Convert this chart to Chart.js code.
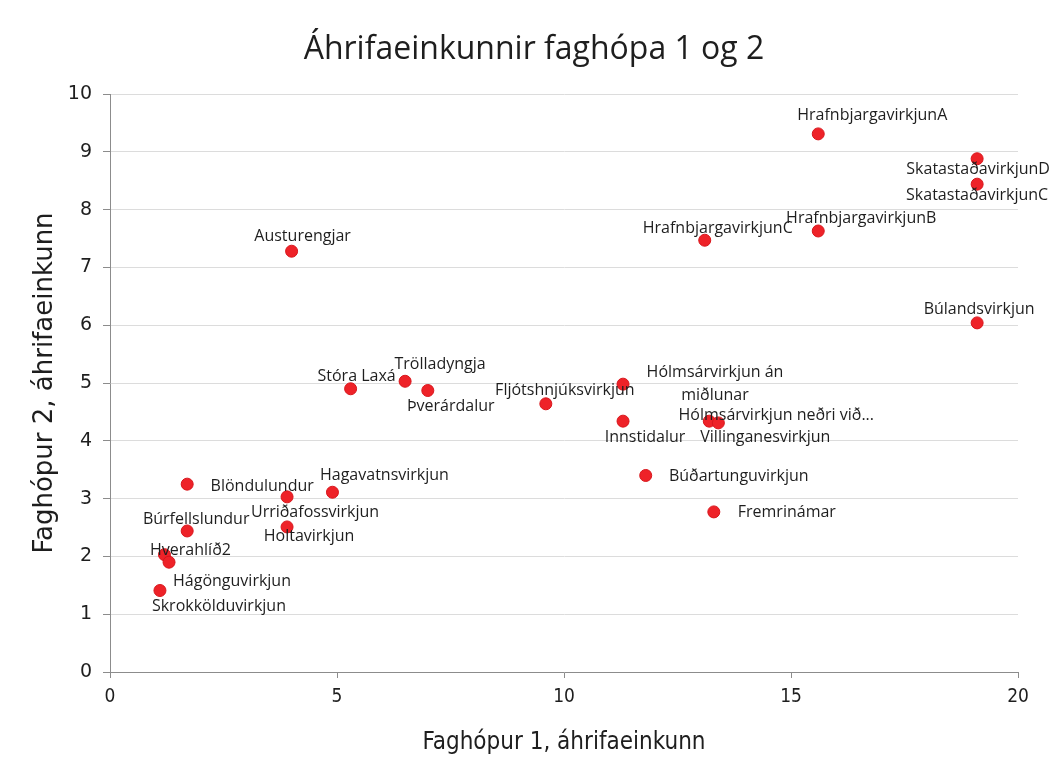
<!DOCTYPE html>
<html>
<head>
<meta charset="utf-8">
<script src="https://cdn.jsdelivr.net/npm/chart.js@4"></script>
<style>
  body { margin: 0; background: #fff; }
  #wrap { width: 1052px; height: 769px; }
</style>
</head>
<body>
<div id="wrap"><canvas id="grafica" width="1052" height="769"></canvas></div>
<script>
// GOGN

const virkjanir = [
    'HrafnbjargavirkjunA', 'SkatastaðavirkjunD', 'SkatastaðavirkjunC', 'HrafnbjargavirkjunB',
    'HrafnbjargavirkjunC', 'Austurengjar', 'Búlandsvirkjun', 'Trölladyngja', 'Stóra Laxá',
    'Þverárdalur', 'Fljótshnjúksvirkjun', 'Hólmsárvirkjun án\nmiðlunar', 'Innstidalur',
    'Hólmsárvirkjun neðri við...', 'Villinganesvirkjun', 'Búðartunguvirkjun', 'Fremrinámar',
    'Blöndulundur', 'Hagavatnsvirkjun', 'Urriðafossvirkjun', 'Holtavirkjun', 'Búrfellslundur',
    'Hverahlíð2', 'Hágönguvirkjun', 'Skrokkölduvirkjun'
];

const faghopur1 = [
    15.6, 19.1, 19.1, 15.6,
    13.1, 4.0, 19.1, 6.5, 5.3,
    7.0, 9.6, 11.3, 11.3,
    13.2, 13.4, 11.8, 13.3,
    1.7, 4.9, 3.9, 3.9, 1.7,
    1.2, 1.3, 1.1
];

const faghopur2 = [
    9.31, 8.88, 8.44, 7.63,
    7.47, 7.28, 6.04, 5.03, 4.90,
    4.87, 4.64, 4.98, 4.34,
    4.34, 4.31, 3.40, 2.77,
    3.25, 3.11, 3.03, 2.51, 2.44,
    2.03, 1.90, 1.41
];

const xTicks = [0, 5, 10, 15, 20];
const yTicks = [0, 1, 2, 3, 4, 5, 6, 7, 8, 9, 10];

// stadsetning merkja midad vid punkt (midja texta)
const merkiStada = [
    [54, -18], [1, 11], [0, 11], [43, -13],
    [13, -12], [11, -15], [2, -13], [35, -17], [6, -12],
    [23, 16], [19, -13], [92, 0], [22, 16],
    [67, -6], [47, 15], [93, 1], [73, 1],
    [75, 2], [52, -17], [28, 16], [22, 10], [9, -12],
    [26, -4], [63, 19], [59, 16]
];


// TITILL OG MERKI

const titillPlugin = {
    id: 'titill',
    afterDraw(chart) {
        const c = chart.ctx;
        c.save();
        c.font = '32px "Open Sans"';
        c.fillStyle = '#1e1e1e';
        c.textAlign = 'center';
        c.textBaseline = 'middle';
        c.fillText('Áhrifaeinkunnir faghópa 1 og 2', 534, 50);
        c.restore();
    }
};

const merkjaPlugin = {
    id: 'merki',
    afterDatasetsDraw(chart) {
        const c = chart.ctx;
        const meta = chart.getDatasetMeta(0);
        c.save();
        c.font = '16px "Open Sans"';
        c.fillStyle = '#1e1e1e';
        c.textAlign = 'center';
        c.textBaseline = 'middle';
        meta.data.forEach((pt, i) => {
            const lines = virkjanir[i].split('\n');
            const [dx, dy] = merkiStada[i];
            const lh = 23;
            const y0 = pt.y + dy - (lines.length - 1) * lh / 2;
            lines.forEach((t, k) => c.fillText(t, pt.x + dx, y0 + k * lh));
        });
        c.restore();
    }
};


// GRAF

const ctx = document.getElementById('grafica');

new Chart(ctx, {

    type: 'scatter',

    data: {
        datasets: [{
            label: 'Áhrifaeinkunn',
            data: faghopur1.map((x, i) => ({ x: x, y: faghopur2[i] })),
            backgroundColor: '#ee2228',
            borderColor: '#d8161c',
            borderWidth: 1,
            pointRadius: 6,
            pointHoverRadius: 6
        }]
    },

    options: {
        responsive: false,
        animation: false,
        layout: {
            padding: { left: 0, right: 34, top: 94, bottom: 0 }
        },
        plugins: {
            legend: { display: false },
            tooltip: { enabled: false },
            title: { display: false }
        },
        scales: {
            x: {
                type: 'linear',
                min: xTicks[0],
                max: xTicks[xTicks.length - 1],
                afterBuildTicks: s => { s.ticks = xTicks.map(v => ({ value: v })); },
                afterFit: s => { s.height = 97; },
                grid: {
                    drawOnChartArea: false,
                    drawTicks: true,
                    tickLength: 6,
                    tickColor: '#8c8c8c'
                },
                border: { display: true, color: '#8c8c8c', width: 1 },
                ticks: {
                    color: '#1e1e1e',
                    padding: 8,
                    font: { family: '"DejaVu Sans Condensed", "Liberation Sans Narrow", sans-serif', size: 19 }
                },
                title: {
                    display: true,
                    text: 'Faghópur 1, áhrifaeinkunn',
                    color: '#1e1e1e',
                    font: { family: '"DejaVu Sans Condensed", "Liberation Sans Narrow", sans-serif', size: 24 },
                    padding: { top: 12, bottom: 12 }
                }
            },
            y: {
                type: 'linear',
                min: yTicks[0],
                max: yTicks[yTicks.length - 1],
                afterBuildTicks: s => { s.ticks = yTicks.map(v => ({ value: v })); },
                afterFit: s => { s.width = 110; },
                grid: {
                    color: '#dcdcdc',
                    drawTicks: true,
                    tickLength: 7,
                    tickColor: '#8c8c8c'
                },
                border: { display: true, color: '#8c8c8c', width: 1 },
                ticks: {
                    color: '#1e1e1e',
                    padding: 11,
                    font: { family: '"DejaVu Sans", sans-serif', size: 19 }
                },
                title: {
                    display: true,
                    text: 'Faghópur 2, áhrifaeinkunn',
                    color: '#1e1e1e',
                    font: { family: '"DejaVu Sans", sans-serif', size: 26 },
                    padding: { top: 30, bottom: 10 }
                }
            }
        }
    },

    plugins: [merkjaPlugin, titillPlugin]

});
</script>
</body>
</html>
